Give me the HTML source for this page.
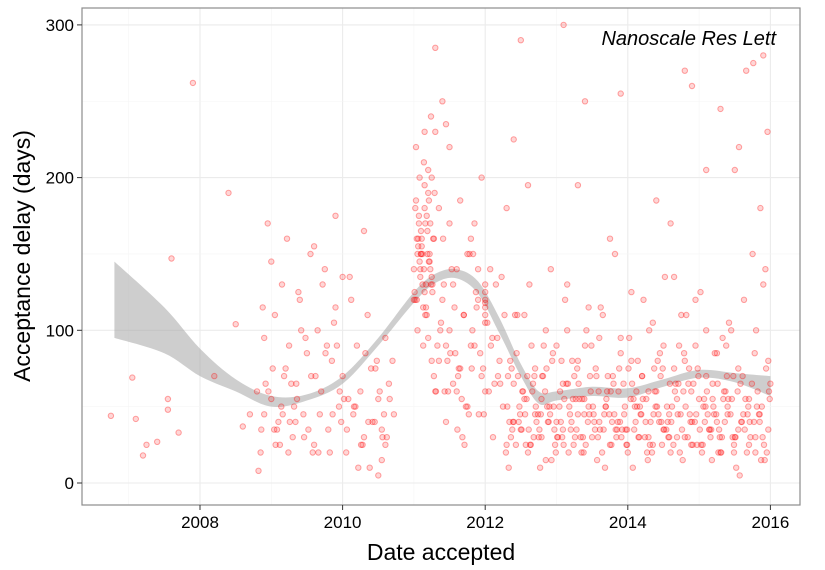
<!DOCTYPE html>
<html><head><meta charset="utf-8"><style>
body{margin:0;background:#fff;}
svg{display:block;font-family:"Liberation Sans",sans-serif;}
</style></head><body>
<svg id="chart" width="825" height="570">
<rect x="0" y="0" width="825" height="570" fill="#fff"/>
<g id="grid"></g>
<g id="ribbon"></g>
<g id="points"></g>
<rect x="82" y="8" width="718" height="497" fill="none" stroke="#8c8c8c" stroke-width="1.2"/>
<g id="axes"></g>
<text x="776" y="45" text-anchor="end" font-size="20" font-style="italic" fill="#000">Nanoscale Res Lett</text>
<text x="441" y="560" text-anchor="middle" font-size="23" fill="#000">Date accepted</text>
<text transform="translate(30,256) rotate(-90)" text-anchor="middle" font-size="23" fill="#000">Acceptance delay (days)</text>
</svg>
<script>
const xTicks=[2008,2010,2012,2014,2016];
const yTicks=[0,100,200,300];
const ribbonX=[2006.8,2007.5,2008,2008.5,2009,2009.5,2010,2010.5,2011,2011.3,2011.6,2011.9,2012.2,2012.5,2012.75,2013,2013.5,2014,2014.5,2015,2015.5,2016];
const ribbonUpper=[145,115,88,68,57,58,70,95,125,137,140,132,108,78,60,60,63,62,68,74,72,70];
const ribbonLower=[95,85,70,60,50,54,65,90,118,131,134,124,98,70,52,54,57,56,63,69,66,57];
const pointDates=[2006.75,2007.1,2007.05,2007.2,2007.25,2007.4,2007.55,2007.55,2007.6,2007.7,2007.9,2008.4,2008.5,2008.2,2008.6,2008.7,
2008.8,2008.85,2008.9,2008.95,2009.0,2009.05,2009.1,2009.15,2009.2,2009.25,2009.3,2009.35,2009.4,2009.45,2009.5,2009.55,2009.6,2009.65,2009.7,2009.75,2009.8,2009.85,2009.9,2009.95,2010.0,2010.05,2010.1,2010.15,2010.2,2010.25,2010.3,2010.35,2010.4,2010.45,2010.5,2010.55,2010.6,2010.65,2010.7,
2008.82,2008.9,2009.02,2009.12,2009.22,2009.32,2009.42,2009.52,2009.62,2009.72,2009.82,2009.92,2010.02,2010.12,2010.22,2010.32,2010.42,2010.52,2010.62,2008.88,2009.08,2009.28,2009.48,2009.68,2009.88,2010.08,2010.28,2010.48,2010.58,2009.18,2009.38,2009.58,2009.78,2009.98,2010.18,2010.38,2010.55,2010.6,2010.5,
2011.0,2011.02,2011.04,2011.06,2011.08,2011.1,2011.12,2011.14,2011.16,2011.18,2011.2,2011.22,2011.24,2011.26,2011.28,2011.3,2011.05,2011.07,2011.09,2011.11,2011.13,2011.15,2011.17,2011.19,2011.21,2011.23,2011.25,2011.03,2011.1,2011.15,2011.2,2011.3,2011.35,2011.4,2011.45,2011.5,2011.55,2011.6,2011.65,2011.7,2011.75,2011.8,2011.85,2011.9,2011.95,
2011.35,2011.4,2011.45,2011.5,2011.55,2011.6,2011.65,2011.7,2011.75,2011.8,2011.85,2011.9,2011.95,2012.05,2012.1,2012.15,2012.2,2011.38,2011.48,2011.58,2011.68,2011.78,2011.88,2011.98,2012.08,2012.18,2012.25,2012.3,2011.42,2011.62,2011.82,
2012.0,2012.0,2012.0,2012.0,2012.0,2012.0,2012.0,2012.0,
2012.3,2012.35,2012.4,2012.45,2012.5,2012.55,2012.6,2012.65,2012.7,2012.75,2012.8,2012.85,2012.9,2012.95,2013.0,2013.05,2013.1,2013.15,2013.2,2013.25,2013.3,2013.35,2013.4,2013.45,2013.5,2013.55,2013.6,2013.65,2013.7,2013.75,2013.8,2013.85,2013.9,2013.95,2014.0,2014.05,2014.1,2014.15,2014.2,2014.25,2014.3,2014.35,2014.4,2014.45,2014.5,2014.55,2014.6,2014.65,2014.7,2014.75,2014.8,2014.85,2014.9,2014.95,2015.0,2015.05,2015.1,2015.15,2015.2,2015.25,2015.3,2015.35,2015.4,2015.45,2015.5,2015.55,2015.6,2015.65,2015.7,2015.75,2015.8,2015.85,2015.9,2015.95,
2012.32,2012.42,2012.52,2012.62,2012.72,2012.82,2012.92,2013.02,2013.12,2013.22,2013.32,2013.42,2013.52,2013.62,2013.72,2013.82,2013.92,2014.02,2014.12,2014.22,2014.32,2014.42,2014.52,2014.62,2014.72,2014.82,2014.92,2015.02,2015.12,2015.22,2015.32,2015.42,2015.52,2015.62,2015.72,2015.82,2015.92,
2012.37,2012.47,2012.57,2012.67,2012.77,2012.87,2012.97,2013.07,2013.17,2013.27,2013.37,2013.47,2013.57,2013.67,2013.77,2013.87,2013.97,2014.07,2014.17,2014.27,2014.37,2014.47,2014.57,2014.67,2014.77,2014.87,2014.97,2015.07,2015.17,2015.27,2015.37,2015.47,2015.57,2015.67,2015.77,2015.87,2015.97,
2012.33,2012.48,2012.63,2012.78,2012.93,2013.08,2013.23,2013.38,2013.53,2013.68,2013.83,2013.98,2014.13,2014.28,2014.43,2014.58,2014.73,2014.88,2015.03,2015.18,2015.33,2015.48,2015.63,2015.78,2015.93,
2012.4,2012.55,2012.7,2012.85,2013.0,2013.15,2013.3,2013.45,2013.6,2013.75,2013.9,2014.05,2014.2,2014.35,2014.5,2014.65,2014.8,2014.95,2015.1,2015.25,2015.4,2015.55,2015.7,2015.85,2016.0,
2012.36,2012.46,2012.56,2012.66,2012.76,2012.86,2012.96,2013.06,2013.16,2013.26,2013.36,2013.46,2013.56,2013.66,2013.76,2013.86,2013.96,2014.06,2014.16,2014.26,2014.36,2014.46,2014.56,2014.66,2014.76,2014.86,2014.96,2015.06,2015.16,2015.26,2015.36,2015.46,2015.56,2015.66,2015.76,2015.86,2015.96,
2013.3,2013.4,2014.6,2014.9,2015.5,2013.9,2012.4,2012.6,2014.4,2015.1,2012.5,2013.1,2014.8,2015.3,2015.9,2011.25,2011.3,2011.15,2011.5,2011.45,2010.0,2009.6,2009.9,2009.0,2010.3,
2011.01,2011.03,2011.05,2011.07,2011.09,2011.11,2011.13,2011.15,2011.17,2011.19,2011.21,2011.23,2011.25,2011.27,2011.29,2011.02,2011.06,2011.1,2011.14,2011.18,2011.22,2011.26,2011.04,2011.08,2011.12,2011.16,2011.2,2011.24,2011.28,2011.0,
2011.33,2011.43,2011.53,2011.63,2011.73,2011.83,2011.93,2012.03,2012.13,2012.23,2011.37,2011.47,2011.57,2011.67,2011.77,2011.87,2011.97,2012.07,2012.17,2012.27,2011.31,2011.41,2011.51,2011.61,2011.71,2011.81,2011.91,2012.11,2012.21,2012.29,
2012.31,2012.39,2012.44,2012.51,2012.58,2012.64,2012.69,2012.74,2012.79,2012.84,2012.89,2012.94,2012.99,2013.04,2013.09,2013.14,2013.19,2013.24,2013.29,2013.34,2013.39,2013.44,2013.49,2013.54,2013.59,2013.64,2013.69,2013.74,2013.79,2013.84,2013.89,2013.94,2013.99,2014.04,2014.09,2014.14,2014.19,2014.24,2014.29,2014.34,2014.39,2014.44,2014.49,2014.54,2014.59,2014.64,2014.69,2014.74,2014.79,2014.84,2014.89,2014.94,2014.99,2015.04,2015.09,2015.14,2015.19,2015.24,2015.29,2015.34,2015.39,2015.44,2015.49,2015.54,2015.59,2015.64,2015.69,2015.74,2015.79,2015.84,2015.89,2015.94,2015.99,
2012.34,2012.43,2012.53,2012.61,2012.71,2012.81,2012.91,2013.01,2013.11,2013.21,2013.31,2013.41,2013.51,2013.61,2013.71,2013.81,2013.91,2014.01,2014.11,2014.21,2014.31,2014.41,2014.51,2014.61,2014.71,2014.81,2014.91,2015.01,2015.11,2015.21,2015.31,2015.41,2015.51,2015.61,2015.71,2015.81,2015.91,2015.98,
2012.38,2012.49,2012.59,2012.68,2012.79,2012.88,2012.98,2013.09,2013.18,2013.28,2013.39,2013.48,2013.58,2013.69,2013.78,2013.88,2013.99,2014.08,2014.18,2014.29,2014.38,2014.48,2014.58,2014.69,2014.78,2014.89,2014.98,2015.08,2015.19,2015.28,2015.38,2015.49,2015.58,2015.68,2015.79,2015.88,2015.97,
2008.86,2008.96,2009.06,2009.16,2009.26,2009.36,2009.46,2009.56,2009.66,2009.76,2009.86,2009.96,2010.06,2010.16,2010.26,2010.36,2010.46,2010.56,2010.66,2010.72,2008.92,2009.04,2009.14,2009.24,2009.34,2009.44,2009.54,2009.64,2009.74,2009.84,2009.94,2010.04,2010.14,2010.24,2010.34,2010.44,2010.54,2010.64,2010.7,2010.62];
const pointDelays=[44,42,69,18,25,27,55,48,147,33,262,190,104,70,37,45,
60,20,95,170,55,110,40,130,75,90,30,65,120,45,85,150,25,100,60,140,35,80,115,50,70,20,135,45,90,60,30,110,75,40,55,15,95,65,80,
8,45,75,25,160,50,100,35,70,130,20,90,55,120,10,85,40,60,30,115,35,65,95,45,105,55,25,80,45,70,125,20,90,40,50,10,35,25,5,
140,180,120,160,200,150,130,210,170,110,190,145,240,125,160,230,100,175,135,155,90,195,115,165,185,140,80,220,150,125,205,60,180,250,90,170,130,60,185,110,150,90,170,140,200,
80,120,40,100,65,140,75,110,50,160,90,120,70,60,95,130,80,105,60,85,30,150,115,45,90,70,50,180,130,70,
100,105,110,115,120,125,130,118,
60,25,80,40,110,35,55,20,90,45,30,70,15,50,85,40,60,25,100,35,70,45,20,90,50,30,75,40,110,55,25,65,35,95,45,20,80,50,30,70,40,100,25,60,85,35,50,20,75,45,110,30,65,40,90,55,25,70,35,50,85,20,60,45,100,30,75,40,55,25,
150,100,45,130,20,70,110,60,130,40,90,140,30,120,80,55,100,45,115,70,150,35,95,60,120,40,80,135,50,90,110,65,125,45,85,30,105,
10,45,30,60,15,75,40,25,65,10,50,35,80,20,55,30,70,15,45,25,60,35,10,50,20,75,40,30,65,15,45,25,55,35,20,60,30,
5,20,40,15,35,10,50,25,45,15,30,55,20,40,10,35,25,50,15,45,30,20,40,25,15,
95,70,120,85,140,65,110,75,100,90,130,80,115,95,160,85,125,70,105,90,135,80,120,100,40,
50,35,55,40,65,30,70,45,60,35,75,50,40,65,30,55,45,70,35,60,40,50,65,30,55,45,70,40,60,35,75,45,50,30,65,40,55,
220,270,275,180,230,195,250,170,260,205,255,225,195,185,205,290,300,270,245,280,200,285,230,220,235,
135,155,175,145,165,125,185,150,170,140,160,115,180,130,150,145,170,135,160,190,120,155,165,140,175,150,130,160,145,150,
110,95,130,70,120,90,60,140,75,50,150,85,105,65,135,100,80,115,55,45,125,75,140,95,110,60,160,85,35,25,
75,45,30,65,20,50,40,85,35,55,25,70,45,30,60,40,80,20,50,35,65,45,25,75,30,55,40,90,35,60,20,50,45,70,30,40,65,25,55,35,80,45,30,60,20,50,40,75,35,65,25,55,45,85,30,60,40,70,20,50,35,65,45,
30,55,70,45,25,60,40,35,50,65,20,45,30,75,55,40,25,60,35,50,70,45,30,55,40,65,25,50,35,60,45,30,75,40,55,25,50,35,
40,65,50,25,35,60,45,20,55,30,70,40,50,25,60,35,45,70,30,55,40,25,65,50,35,45,60,30,50,40,75,35,55,45,30,60,25,
45,30,60,25,75,40,55,35,90,20,65,45,30,50,80,35,60,25,45,40,55,30,70,20,85,45,60,35,50,25,40,75,30,55,45,65,35,50,20,40];

const X0=82,X1=800,Y0=8,Y1=505;
function sx(v){return 200+(v-2008)*71.3;}
function sy(v){return 483-v*1.527;}
const NS="http://www.w3.org/2000/svg";
function mk(tag,attrs,parent){const e=document.createElementNS(NS,tag);for(const k in attrs)e.setAttribute(k,attrs[k]);parent.appendChild(e);return e;}

const grid=document.getElementById('grid');
for(let yr=2007;yr<=2016;yr++){const x=sx(yr);if(x<X0||x>X1)continue;
  const l=mk('line',{x1:x,x2:x,y1:Y0,y2:Y1,stroke:xTicks.includes(yr)?'#ebebeb':'#f5f5f5','stroke-width':xTicks.includes(yr)?1.1:0.6},grid);
  
  }
for(let v=-50;v<=300;v+=50){const y=sy(v);if(y<Y0||y>Y1)continue;
  const l=mk('line',{x1:X0,x2:X1,y1:y,y2:y,stroke:yTicks.includes(v)?'#ebebeb':'#f5f5f5','stroke-width':yTicks.includes(v)?1.1:0.6},grid);
  
  }

function smoothPath(pts,start){
  let d=(start?'M':'L')+pts[0][0].toFixed(1)+','+pts[0][1].toFixed(1);
  for(let i=0;i<pts.length-1;i++){
    const p0=pts[Math.max(0,i-1)],p1=pts[i],p2=pts[i+1],p3=pts[Math.min(pts.length-1,i+2)];
    const c1=[p1[0]+(p2[0]-p0[0])/6,p1[1]+(p2[1]-p0[1])/6];
    const c2=[p2[0]-(p3[0]-p1[0])/6,p2[1]-(p3[1]-p1[1])/6];
    d+='C'+c1.map(v=>v.toFixed(1)).join(',')+' '+c2.map(v=>v.toFixed(1)).join(',')+' '+p2[0].toFixed(1)+','+p2[1].toFixed(1);
  }
  return d;
}
const rib=document.getElementById('ribbon');
const up=ribbonX.map((x,i)=>[sx(x),sy(ribbonUpper[i])]);
const lo=ribbonX.map((x,i)=>[sx(x),sy(ribbonLower[i])]).reverse();
const rp=mk('path',{d:smoothPath(up,true)+smoothPath(lo,false)+'Z',fill:'#a6a6a6','fill-opacity':0.55,stroke:'none'},rib);



const pts=document.getElementById('points');
const n=Math.min(pointDates.length,pointDelays.length);
for(let i=0;i<n;i++){
  const c=mk('circle',{cx:sx(pointDates[i]).toFixed(1),cy:sy(pointDelays[i]).toFixed(1),r:2.7,fill:'#ff0000','fill-opacity':0.16,stroke:'#ff0000','stroke-opacity':0.35,'stroke-width':1},pts);
  
  
}

const ax=document.getElementById('axes');
xTicks.forEach(v=>{const x=sx(v);
  const t=mk('line',{x1:x,x2:x,y1:Y1,y2:Y1+5,stroke:'#333','stroke-width':1},ax);
  
  
  const tx=mk('text',{x:x,y:Y1+23,'text-anchor':'middle','font-size':17,fill:'#000'},ax);
  tx.textContent=v;
  
  });
yTicks.forEach(v=>{const y=sy(v);
  const t=mk('line',{x1:X0-5,x2:X0,y1:y,y2:y,stroke:'#333','stroke-width':1},ax);
  
  
  const tx=mk('text',{x:X0-8,y:y+6,'text-anchor':'end','font-size':17,fill:'#000'},ax);
  tx.textContent=v;
  
  });
</script>
</body></html>
